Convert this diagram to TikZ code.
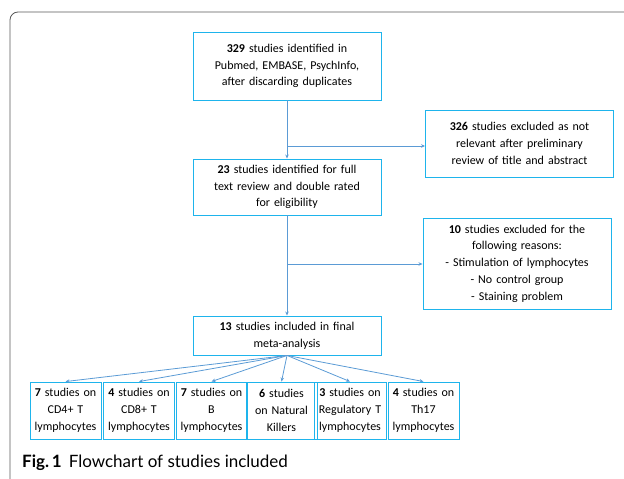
\documentclass[tikz,border=0pt]{standalone}
\usepackage{fontspec}
\setmainfont{Carlito}
\newfontfamily\capfont{Lato}
\usetikzlibrary{arrows.meta}
\definecolor{boxblue}{RGB}{30,180,236}
\definecolor{linkblue}{RGB}{91,155,213}
\begin{document}
\begin{tikzpicture}[x=1pt,y=-1pt,
    study/.style ={draw=boxblue, line width=0.9pt, align=center, inner sep=0pt,
      font=\fontsize{12}{16.8}\selectfont},
    big/.style ={study, minimum width=188pt, text width=186pt},
    small/.style ={study, minimum width=71pt, minimum height=57pt, text width=71pt},
    link/.style ={draw=linkblue, line width=0.8pt, -{Stealth[length=4pt,width=3.5pt]}}]
   \useasboundingbox (0,0) rectangle (624,479);
   \draw[black!65, line width=0.8pt, rounded corners=8pt] (630,12) -- (10,12) -- (10,485);

   \node[big, minimum height=68pt] (A) at (287,66) {\textbf{329} studies identified in\\Pubmed, EMBASE, PsychInfo,\\after discarding duplicates};
   \node[big, minimum height=67pt] (B) at (519.5,143.5) {\textbf{326} studies excluded as not\\relevant after preliminary\\review of title and abstract};
   \node[big, minimum height=56pt] (C) at (287,187) {\textbf{23} studies identified for full\\text review and double rated\\for eligibility};
   \node[big, minimum height=91pt] (D) at (517,263.5) {\textbf{10} studies excluded for the\\following reasons:\\- Stimulation of lymphocytes\\- No control group\\- Staining problem};
   \node[big, minimum height=39pt] (E) at (287,335.5) {\textbf{13} studies included in final\\meta-analysis};

   \node[small] (F1) at (65.5,410.5) {\textbf{7} studies on\\CD4+ T\\lymphocytes};
   \node[small, minimum width=70pt] (F2) at (139,410.5) {\textbf{4} studies on\\CD8+ T\\lymphocytes};
   \node[small] (F3) at (211.5,410.5) {\textbf{7} studies on\\B\\lymphocytes};
   \node[small, minimum width=61pt] (F4) at (281.5,410.5) {\textbf{6} studies\\on Natural\\Killers};
   \node[small, minimum width=72pt] (F5) at (350,410.5) {\textbf{3} studies on\\Regulatory T\\lymphocytes};
   \node[small] (F6) at (423.5,410.5) {\textbf{4} studies on\\Th17\\lymphocytes};

   \coordinate (J1) at (287,146);
   \coordinate (J2) at (287,264);

   \draw[link] (A) to (C);
   \draw[link] (J1) to (J1 -| B.west);
   \draw[link] (C) to (E);
   \draw[link] (J2) to (J2 -| D.west);
   \foreach \f in {F1,F2,F3,F4,F5,F6}
     \draw[link] (E.south) to (\f.north);

   \node[anchor=base west, inner sep=0pt, font=\capfont\fontsize{17}{19}\selectfont] (cap) at (22,467)
     {\textbf{Fig.\,1}\hspace{7pt}Flowchart of studies included};
\end{tikzpicture}
\end{document}
